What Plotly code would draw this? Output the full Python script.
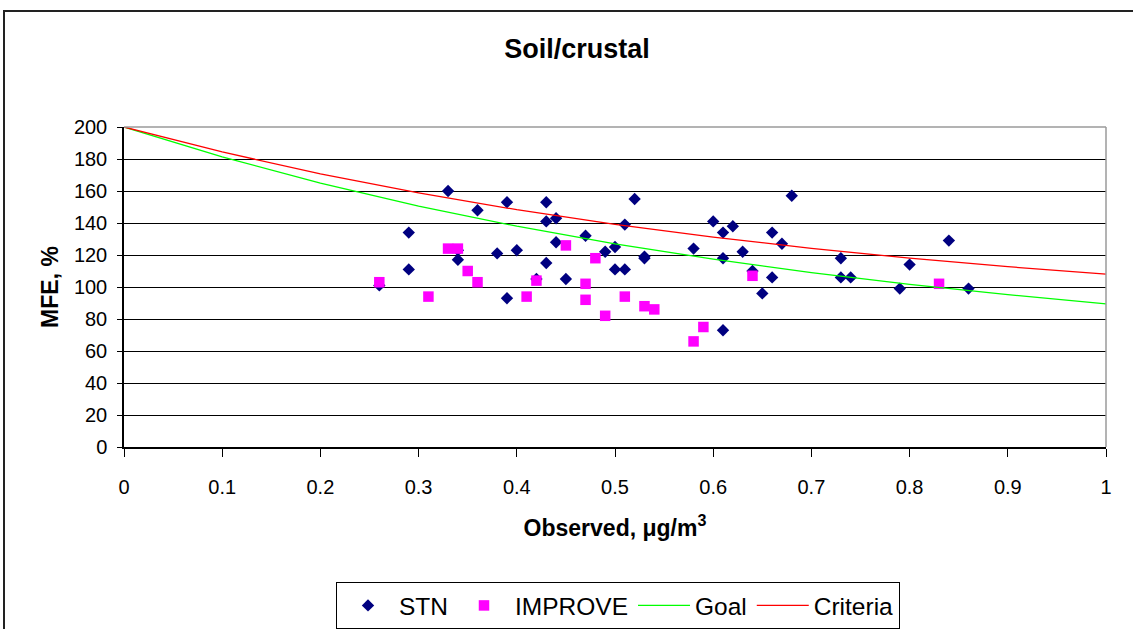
import plotly.graph_objects as go

# ---- data ----
stn_x = [0.26, 0.29, 0.29, 0.33, 0.34, 0.34, 0.36, 0.38, 0.39, 0.39, 0.40, 0.42,
         0.43, 0.43, 0.43, 0.44, 0.44, 0.45, 0.47, 0.49, 0.50, 0.50, 0.51, 0.51,
         0.52, 0.53, 0.53, 0.58, 0.60, 0.61, 0.61, 0.61, 0.62, 0.63, 0.64, 0.65,
         0.66, 0.66, 0.67, 0.68, 0.73, 0.73, 0.74, 0.79, 0.80, 0.84, 0.86]
stn_y = [101, 134, 111, 160, 117, 123, 148, 121, 153, 93, 123, 105,
         153, 141, 115, 143, 128, 105, 132, 122, 125, 111, 111, 139,
         155, 118, 119, 124, 141, 134, 118, 73, 138, 122, 110, 96,
         134, 106, 127, 157, 118, 106, 106, 99, 114, 129, 99]

improve_x = [0.26, 0.31, 0.33, 0.34, 0.35, 0.36, 0.41, 0.42, 0.45, 0.47,
             0.47, 0.48, 0.49, 0.51, 0.53, 0.54, 0.58, 0.59, 0.64, 0.83]
improve_y = [103, 94, 124, 124, 110, 103, 94, 104, 126, 102,
             92, 118, 82, 94, 88, 86, 66, 75, 107, 102]

line_x = [0.0, 0.1, 0.2, 0.3, 0.4, 0.5, 0.6, 0.7, 0.8, 0.9, 1.0]
goal_y = [200, 181.3, 164.9, 150.5, 138.0, 127.0, 117.4, 109.0, 101.6, 95.2, 89.5]
criteria_y = [200, 184.4, 170.7, 158.8, 148.3, 139.2, 131.2, 124.2, 118.0, 112.7, 108.0]

x_ticks = [0, 0.1, 0.2, 0.3, 0.4, 0.5, 0.6, 0.7, 0.8, 0.9, 1]
x_tick_text = ["0", "0.1", "0.2", "0.3", "0.4", "0.5", "0.6", "0.7", "0.8", "0.9", "1"]
y_ticks = [0, 20, 40, 60, 80, 100, 120, 140, 160, 180, 200]

FONT = "Liberation Sans, Arial, sans-serif"

fig = go.Figure()
fig.add_trace(go.Scatter(x=stn_x, y=stn_y, mode="markers", name="STN",
                         marker=dict(symbol="diamond", size=9.5, color="#000080")))
fig.add_trace(go.Scatter(x=improve_x, y=improve_y, mode="markers", name="IMPROVE",
                         marker=dict(symbol="square", size=10.5, color="#FF00FF")))
fig.add_trace(go.Scatter(x=line_x, y=goal_y, mode="lines", name="Goal",
                         line=dict(color="#00FF00", width=1.3)))
fig.add_trace(go.Scatter(x=line_x, y=criteria_y, mode="lines", name="Criteria",
                         line=dict(color="#FF0000", width=1.3)))

L, R, T, B = 124, 1106, 127, 447
W, H = 1133, 629

def px(xp):
    return (xp - L) / (R - L)

def py(yp):
    return (B - yp) / (B - T)

fig.update_layout(
    width=W, height=H,
    margin=dict(l=L, r=W - R, t=T, b=H - B, autoexpand=False),
    paper_bgcolor="white", plot_bgcolor="white",
    font=dict(family=FONT, color="black"),
    title=dict(text="<b>Soil/crustal</b>", font=dict(size=27, family=FONT, color="black"),
               x=577 / W, xanchor="center", xref="container",
               y=1 - 48.5 / H, yanchor="middle", yref="container"),
    showlegend=True,
    legend=dict(orientation="h", x=336 / W, xanchor="left", xref="container",
                y=1 - 582 / H, yanchor="top", yref="container",
                font=dict(size=24.5, family=FONT, color="black"),
                bordercolor="black", borderwidth=1, bgcolor="white",
                itemwidth=52, traceorder="normal"),
    xaxis=dict(range=[0, 1], tickvals=x_ticks, ticktext=x_tick_text,
               showgrid=False, zeroline=False,
               showline=True, linecolor="black", linewidth=1.5,
               ticks="outside", ticklen=8, tickcolor="black", tickwidth=1,
               ticklabelstandoff=13,
               tickfont=dict(size=20, family=FONT, color="black"),
               title=dict(text="<b>Observed, \u03bcg/m<sup>3</sup></b>",
                          font=dict(size=23, family=FONT, color="black"), standoff=23)),
    yaxis=dict(range=[0, 200], tickvals=y_ticks,
               showgrid=True, gridcolor="black", gridwidth=1.2,
               zeroline=False,
               showline=True, linecolor="black", linewidth=1.5,
               ticks="outside", ticklen=5, tickcolor="black", tickwidth=1,
               ticklabelstandoff=6,
               tickfont=dict(size=20, family=FONT, color="black"),
               title=dict(text="<b>MFE, %</b>",
                          font=dict(size=23, family=FONT, color="black"), standoff=9)),
    shapes=[
        dict(type="line", xref="paper", yref="paper", x0=0, x1=1, y0=1, y1=1,
             line=dict(color="#9a9a9a", width=1.5), layer="above"),
        dict(type="line", xref="paper", yref="paper", x0=1, x1=1, y0=0, y1=1,
             line=dict(color="#9a9a9a", width=1.5), layer="above"),
        dict(type="rect", xref="paper", yref="paper",
             x0=px(4), x1=px(1160), y0=py(650), y1=py(11),
             line=dict(color="#222222", width=2), layer="above"),
    ],
)

fig.write_html("out.html")
